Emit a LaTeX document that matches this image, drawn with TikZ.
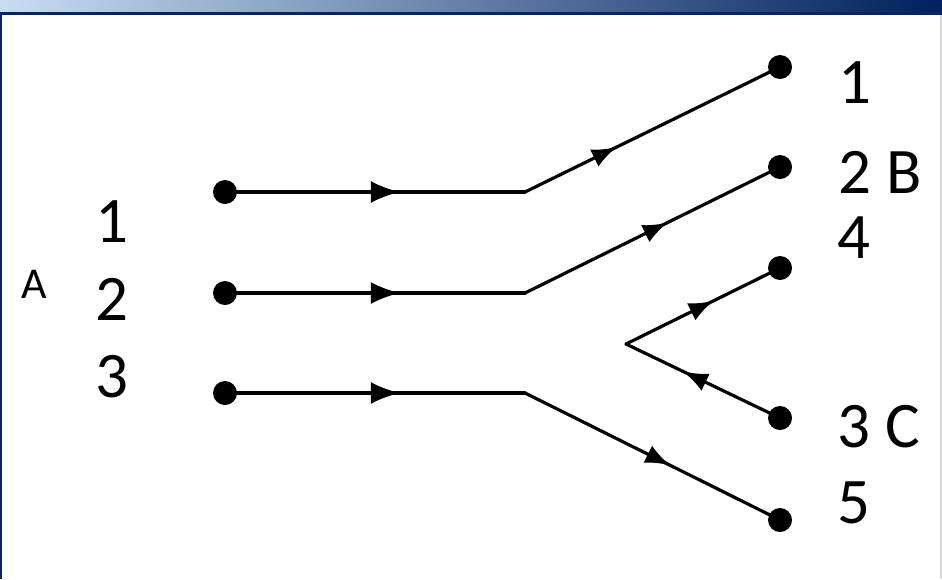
\documentclass[tikz,border=0pt]{standalone}
\usepackage{fontspec}
\setmainfont{Carlito}
\usetikzlibrary{arrows.meta,decorations.markings}
\definecolor{navy}{HTML}{0A2463}
\definecolor{lightbar}{HTML}{C8DDF2}
\definecolor{darkbar}{HTML}{00205E}
\tikzset{
  dot/.style={circle,fill=black,inner sep=0pt,minimum size=24pt},
  wire/.style={line width=3.2pt,line cap=round,line join=round},
  harrow/.style={postaction={decorate,decoration={markings,
      mark=at position #1 with {\arrow{Latex[length=29pt,width=22pt]}}}}},
  darrow/.style={postaction={decorate,decoration={markings,
      mark=at position #1 with {\arrow{Latex[length=25pt,width=19pt]}}}}},
  big/.style={inner sep=0pt,anchor=base,font=\fontsize{65}{65}\selectfont},
  small/.style={inner sep=0pt,anchor=base,font=\fontsize{44}{44}\selectfont}
}
\begin{document}
\begin{tikzpicture}[x=1pt,y=-1pt]
\useasboundingbox (0,0) rectangle (942,579);
\fill[white] (0,0) rectangle (942,579);
% title bar and frame
\shade[left color=lightbar,right color=darkbar] (0,0) rectangle (942,13);
\fill[navy] (0,12) rectangle (942,14.5);
\fill[navy] (0,12) rectangle (2.2,579);
\fill[black!15] (939.5,14.5) rectangle (942,579);
% dots
\node[dot] (a1) at (225,192) {};
\node[dot] (a2) at (225,293) {};
\node[dot] (a3) at (225,393) {};
\node[dot] (b1) at (780,67) {};
\node[dot] (b2) at (780,167) {};
\node[dot] (b4) at (780,268) {};
\node[dot] (c3) at (780,418) {};
\node[dot] (b5) at (780,520) {};
\coordinate (k1) at (525,192);
\coordinate (k2) at (525,293);
\coordinate (k3) at (525,393);
\coordinate (v) at (626,344);
% wires
\draw[wire,harrow=0.583] (a1.center) -- (k1);
\draw[wire,darrow=0.36] (k1) -- (b1.center);
\draw[wire,harrow=0.583] (a2.center) -- (k2);
\draw[wire,darrow=0.56] (k2) -- (b2.center);
\draw[wire,harrow=0.583] (a3.center) -- (k3);
\draw[wire,darrow=0.57] (k3) -- (b5.center);
\draw[wire,darrow=0.63] (c3.center) -- (v);
\draw[wire,darrow=0.57] (v) -- (b4.center);
% labels
\node[small] (lA) at (34,298) {A};
\node[big] (l1) at (112,242) {1};
\node[big] (l2) at (112,320) {2};
\node[big] (l3) at (112,397) {3};
\node[big] (r1) at (855,103) {1};
\node[big] (r2) at (880,193) {2 B};
\node[big] (r4) at (854,258) {4};
\node[big] (r3) at (879,447) {3 C};
\node[big] (r5) at (854,523) {5};
\end{tikzpicture}
\end{document}
